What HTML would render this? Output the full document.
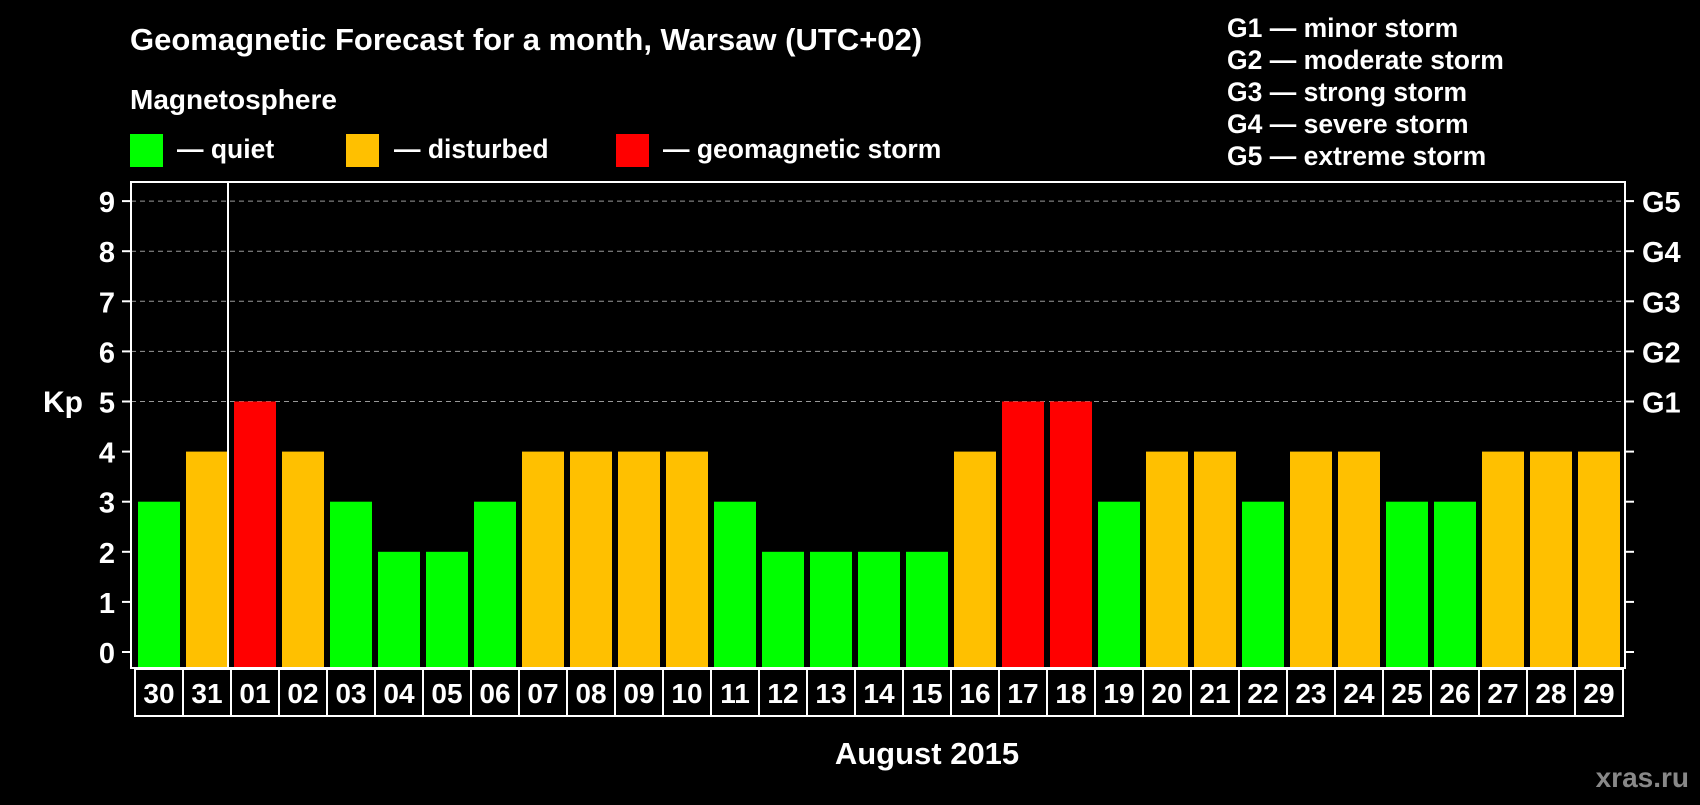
<!DOCTYPE html>
<html><head><meta charset="utf-8"><style>
body{margin:0;background:#000;}
svg text{font-family:"Liberation Sans",Arial,sans-serif;font-weight:bold;fill:#fff;}
</style></head><body>
<svg id="chart" width="1700" height="800" xmlns="http://www.w3.org/2000/svg">
<rect width="1700" height="800" fill="#000"/>
<text x="130" y="50" font-size="31">Geomagnetic Forecast for a month, Warsaw (UTC+02)</text>
<text x="130" y="109" font-size="28">Magnetosphere</text>
<rect x="130" y="134" width="33" height="33" fill="#00ff00"/>
<text x="177" y="158" font-size="26.5">— quiet</text>
<rect x="346" y="134" width="33" height="33" fill="#ffc000"/>
<text x="394" y="158" font-size="26.5">— disturbed</text>
<rect x="616" y="134" width="33" height="33" fill="#ff0000"/>
<text x="663" y="158" font-size="26.5">— geomagnetic storm</text>
<g font-size="26.5">
<text x="1227" y="37">G1 — minor storm</text>
<text x="1227" y="69">G2 — moderate storm</text>
<text x="1227" y="101">G3 — strong storm</text>
<text x="1227" y="133">G4 — severe storm</text>
<text x="1227" y="165">G5 — extreme storm</text>
</g>
<text x="43" y="412" font-size="30">Kp</text>
<text x="927" y="764" font-size="31" text-anchor="middle">August 2015</text>
<text x="1689" y="787" font-size="28" text-anchor="end" style="fill:#888">xras.ru</text>
<g id="grid"></g><g id="bars"></g><g id="axes"></g>
</svg>
<script>
const days=["30","31","01","02","03","04","05","06","07","08","09","10","11","12","13","14","15","16","17","18","19","20","21","22","23","24","25","26","27","28","29"];
const kp=[3,4,5,4,3,2,2,3,4,4,4,4,3,2,2,2,2,4,5,5,3,4,4,3,4,4,3,3,4,4,4];
const yTicks=[0,1,2,3,4,5,6,7,8,9];
const gLabels=["G1","G2","G3","G4","G5"];
const NS="http://www.w3.org/2000/svg";
const L=131,R=1625,T=182,B=668,X0=138,P=48,BW=42;
const y=v=>652-v*50.1;
const x=i=>X0+i*P;
const col=v=>v>=5?"#ff0000":v>=4?"#ffc000":"#00ff00";
function mk(t,a,p){const e=document.createElementNS(NS,t);for(const k in a)e.setAttribute(k,a[k]);p.appendChild(e);return e;}
const grid=document.getElementById('grid'),bars=document.getElementById('bars'),axes=document.getElementById('axes');
yTicks.forEach(v=>{
 if(v>=5){const g=mk('line',{x1:L,x2:R,y1:y(v),y2:y(v),stroke:'#999','stroke-width':1,'stroke-dasharray':'5,4'},grid);
 
 }
 const t1=mk('line',{x1:122,x2:L,y1:y(v),y2:y(v),stroke:'#fff','stroke-width':2},axes);
 
 
 mk('line',{x1:R,x2:1634,y1:y(v),y2:y(v),stroke:'#fff','stroke-width':2},axes);
 const tx=mk('text',{x:115,y:y(v)+11,'font-size':29,'text-anchor':'end'},axes);tx.textContent=v;
 
 
});
gLabels.forEach((g,i)=>{const t=mk('text',{x:1642,y:y(i+5)+11,'font-size':29},axes);t.textContent=g;
 
 });
kp.forEach((v,i)=>{
 const r=mk('rect',{x:x(i),y:y(v),width:BW,height:B-y(v),fill:col(v)},bars);
 
 
 const b=mk('rect',{x:x(i)-3,y:669,width:P,height:47,fill:'none',stroke:'#fff','stroke-width':2},axes);
 
 
 const t=mk('text',{x:x(i)+BW/2,y:703,'font-size':28,'text-anchor':'middle'},axes);t.textContent=days[i];
 
 
});
const fr=mk('rect',{x:L,y:T,width:R-L,height:B-T,fill:'none',stroke:'#fff','stroke-width':2},axes);


const sep=mk('line',{x1:x(2)-6,x2:x(2)-6,y1:T,y2:B,stroke:'#fff','stroke-width':2},axes);


</script>
</body></html>
